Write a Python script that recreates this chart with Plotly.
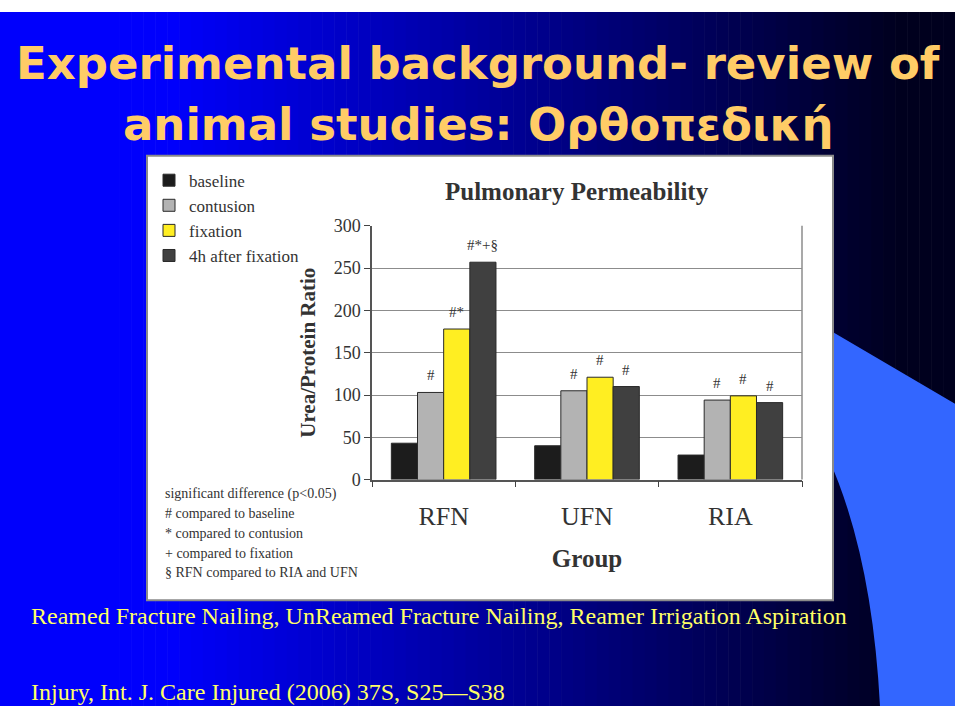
import plotly.graph_objects as go

# ---------------- data ----------------
groups = ["RFN", "UFN", "RIA"]
series_names = ["baseline", "contusion", "fixation", "4h after fixation"]
baseline = [43, 40, 29]
contusion = [103, 105, 94]
fixation = [178, 121, 99]
after4h = [257, 110, 91]
sig_baseline = ["", "", ""]
sig_contusion = ["#", "#", "#"]
sig_fixation = ["#*", "#", "#"]
sig_after4h = ["#*+§", "#", "#"]
y_ticks = [0, 50, 100, 150, 200, 250, 300]

footnotes = [
    "significant difference (p<0.05)",
    "# compared to baseline",
    "* compared to contusion",
    "+ compared to fixation",
    "§ RFN compared to RIA and UFN",
]
title_line1 = "Experimental background- review of"
title_line2 = "animal studies: Ορθοπεδική"
caption = "Reamed Fracture Nailing, UnReamed Fracture Nailing, Reamer Irrigation Aspiration"
citation = "Injury, Int. J. Care Injured (2006) 37S, S25\u2014S38"

# ---------------- styling ----------------
W, H = 960, 720
colors = ["#1c1c1c", "#b3b3b3", "#ffee22", "#404040"]
SERIF = "Liberation Serif, Times New Roman, serif"
TXT = "#333333"

px = lambda x: x / W
py = lambda y: 1 - y / H

fig = go.Figure()
all_vals = [baseline, contusion, fixation, after4h]
all_sig = [sig_baseline, sig_contusion, sig_fixation, sig_after4h]
for i, (name, vals) in enumerate(zip(series_names, all_vals)):
    fig.add_trace(go.Bar(
        x=groups, y=vals, name=name, legendgroup=name,
        marker=dict(color=colors[i], line=dict(color="#2a2a2a", width=1)),
    ))

shapes = []
# slide gradient background (bright blue on the left -> near black on the right)
n = 80
x_end = 955
for k in range(n):
    xc = x_end * (k + 0.5) / n
    t = min(max((xc - 170) / (900 - 170), 0), 1)
    b = int(round(252 * (1 - t) + 30 * t))
    x0 = x_end * k / n
    x1 = min(x_end * (k + 1) / n + 0.6, x_end)
    shapes.append(dict(type="rect", xref="paper", yref="paper",
                       x0=px(x0), x1=px(x1), y0=py(716), y1=py(2),
                       fillcolor=f"rgb(0,0,{b})", line=dict(width=0), layer="below"))
# light blue swoosh bottom-right
p = lambda x, y: f"{px(x):.5f},{py(y):.5f}"
path = (f"M {p(834,332)} L {p(955,405)} L {p(955,716)} L {p(880,716)} "
        f"Q {p(872,560)} {p(828,460)} L {p(828,332)} Z")
shapes.append(dict(type="path", xref="paper", yref="paper", path=path,
                   fillcolor="#3366ff", line=dict(width=0), layer="below"))
# white chart picture
shapes.append(dict(type="rect", xref="paper", yref="paper",
                   x0=px(147), x1=px(833), y0=py(607), y1=py(150),
                   fillcolor="white", line=dict(color="#8a8a8a", width=2), layer="below"))

annotations = []
# significance marks above bars
cat_w = (802 - 372) / 3
bar_w = cat_w * 0.73 / 4
for i, (vals, sig) in enumerate(zip(all_vals, all_sig)):
    for j, g_ in enumerate(groups):
        if sig[j]:
            annotations.append(dict(x=g_, y=vals[j], xref="x", yref="y", text=sig[j],
                                    showarrow=False, xshift=(i - 1.5) * bar_w, yshift=7,
                                    yanchor="bottom", font=dict(family=SERIF, size=15, color=TXT)))
# footnotes
for k, line in enumerate(footnotes):
    annotations.append(dict(x=px(163), y=py(498 + k * 20.2), xref="paper", yref="paper",
                            text=line, showarrow=False, xanchor="left", yanchor="middle",
                            font=dict(family=SERIF, size=14, color=TXT)))
# chart title
annotations.append(dict(x=px(577), y=py(187), xref="paper", yref="paper",
                        text="<b>Pulmonary Permeability</b>", showarrow=False,
                        xanchor="center", yanchor="middle",
                        font=dict(family=SERIF, size=25, color=TXT)))
# slide title
for txt, yy in ((title_line1, 55), (title_line2, 118)):
    annotations.append(dict(x=px(478), y=py(yy), xref="paper", yref="paper",
                            text="<b>" + txt + "</b>", showarrow=False,
                            xanchor="center", yanchor="middle",
                            font=dict(family="DejaVu Sans", size=45, color="#ffcc66")))
annotations.append(dict(x=px(29), y=py(623), xref="paper", yref="paper",
                        text=caption, showarrow=False, xanchor="left", yanchor="middle",
                        font=dict(family=SERIF, size=24, color="#ffff66")))
annotations.append(dict(x=px(29), y=py(701), xref="paper", yref="paper",
                        text=citation, showarrow=False, xanchor="left", yanchor="middle",
                        font=dict(family=SERIF, size=24, color="#ffff66")))

fig.update_layout(
    width=W, height=H, margin=dict(l=0, r=0, t=0, b=0),
    paper_bgcolor="white", plot_bgcolor="white",
    barmode="group", bargap=0.27, bargroupgap=0,
    shapes=shapes, annotations=annotations,
    showlegend=True,
    legend=dict(x=px(149), y=py(157), xanchor="left", yanchor="top",
                bgcolor="rgba(0,0,0,0)", font=dict(family=SERIF, size=17, color=TXT),
                tracegroupgap=8, itemwidth=30, traceorder="normal"),
    xaxis=dict(domain=[px(372), px(802)], showgrid=False, tickson="boundaries",
               ticks="outside", ticklen=6, tickcolor="#444", showline=True,
               linecolor="#555", linewidth=1.5, mirror=False,
               ticklabelstandoff=12,
               tickfont=dict(family=SERIF, size=26, color=TXT),
               title=dict(text="<b>Group</b>", font=dict(family=SERIF, size=25, color=TXT),
                          standoff=20),
               fixedrange=True),
    yaxis=dict(domain=[py(483), py(222)], range=[0, 300], tickvals=y_ticks,
               showgrid=True, gridcolor="#8c8c8c", gridwidth=1,
               ticks="outside", ticklen=6, tickcolor="#444",
               showline=True, linecolor="#555", linewidth=1.5, zeroline=False,
               tickfont=dict(family=SERIF, size=18, color=TXT),
               title=dict(text="<b>Urea/Protein Ratio</b>",
                          font=dict(family=SERIF, size=21, color=TXT), standoff=12),
               fixedrange=True),
)
# right border of plot area
fig.add_shape(type="line", xref="x domain", yref="y domain", x0=1, x1=1, y0=0, y1=1,
              line=dict(color="#8c8c8c", width=1.5))

fig.write_html("out.html", post_script="document.body.style.margin='0';document.body.style.overflow='hidden';")
